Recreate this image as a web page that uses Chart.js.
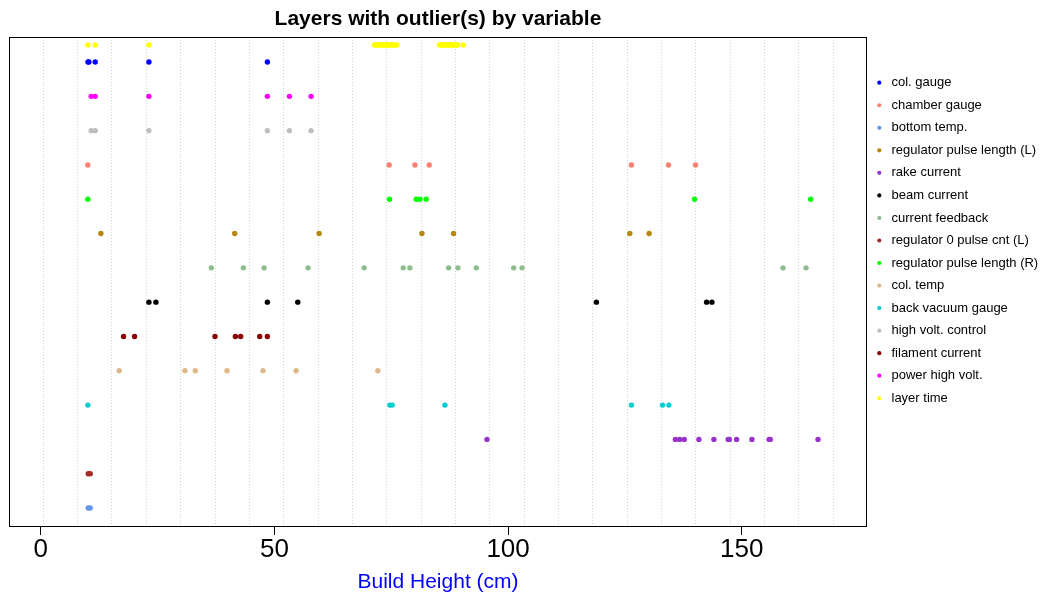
<!DOCTYPE html>
<html>
<head>
<meta charset="utf-8">
<script src="https://cdn.jsdelivr.net/npm/chart.js@4/dist/chart.umd.min.js"></script>
<style>
  html, body { margin: 0; padding: 0; background: #ffffff; }
  #wrap { width: 1040px; height: 596px; }
</style>
</head>
<body>
<div id="wrap"><canvas id="c" width="1040" height="596"></canvas></div>
<script>
// ---------- data ----------
const seriesLabels = [
  "col. gauge", "chamber gauge", "bottom temp.", "regulator pulse length (L)",
  "rake current", "beam current", "current feedback", "regulator 0 pulse cnt (L)",
  "regulator pulse length (R)", "col. temp", "back vacuum gauge", "high volt. control",
  "filament current", "power high volt.", "layer time"
];
// row (y) position of each variable, same order as seriesLabels
const rowPositions = [14, 11, 1, 9, 3, 7, 8, 2, 10, 5, 4, 12, 6, 13, 14.5];

// build heights (cm) of flagged layers, per variable
const colGauge = [10.1, 10.3, 11.65, 23.14, 48.49];
const chamberGauge = [10.07, 74.55, 80.06, 83.12, 126.4, 134.32, 140.11];
const bottomTemp = [10.15, 10.58];
const regPulseLenL = [12.86, 41.5, 59.56, 81.56, 88.34, 126.04, 130.18];
const rakeCurrent = [95.48, 135.8, 136.7, 137.7, 140.83, 144.04, 147.1, 147.35, 148.89, 152.18, 155.85, 156.1, 166.32];
const beamCurrent = [23.14, 24.64, 48.49, 54.99, 118.9, 142.47, 143.61];
const currentFeedback = [36.5, 43.35, 47.78, 57.2, 69.2, 77.56, 78.98, 87.27, 89.27, 93.2, 101.19, 102.98, 158.82, 163.75];
const reg0PulseCntL = [10.15, 10.58];
const regPulseLenR = [10.07, 74.63, 80.34, 81.13, 82.48, 139.9, 164.75];
const colTemp = [16.79, 30.85, 33.07, 39.85, 47.56, 54.63, 72.13];
const backVacuumGauge = [10.08, 74.7, 75.2, 86.48, 126.4, 133.04, 134.4];
const highVoltControl = [10.79, 11.65, 23.14, 48.49, 53.21, 57.85];
const filamentCurrent = [17.72, 20.07, 37.28, 41.64, 42.78, 46.85, 48.49];
const powerHighVolt = [10.79, 11.65, 23.14, 48.49, 53.21, 57.85];
const layerTime = [10.07, 11.65, 23.14,
  71.4, 71.6, 71.9, 72.1, 72.4, 72.6, 72.9, 73.1, 73.4, 73.6, 73.9, 74.1, 74.4, 74.6, 74.9, 75.1, 75.4, 75.6, 75.9, 76.2,
  85.3, 85.5, 85.8, 86.0, 86.3, 86.5, 86.8, 87.0, 87.3, 87.5, 87.8, 88.0, 88.3, 88.6, 88.9, 89.2, 90.4];

const seriesValues = [colGauge, chamberGauge, bottomTemp, regPulseLenL, rakeCurrent, beamCurrent,
  currentFeedback, reg0PulseCntL, regPulseLenR, colTemp, backVacuumGauge, highVoltControl,
  filamentCurrent, powerHighVolt, layerTime];

const xTickValues = [0, 50, 100, 150];
const xGridValues = [0.43, 7.78, 15.13, 22.48, 29.83, 37.18, 44.52, 51.87, 59.22, 66.57, 73.92, 81.27,
  88.62, 95.97, 103.32, 110.67, 118.01, 125.36, 132.71, 140.06, 147.41, 154.76, 162.11, 169.46];

// ---------- styles ----------
const seriesColors = ["#0000FF", "#FA8072", "#6495ED", "#B8860B", "#9932CC", "#000000",
  "#8FBC8F", "#A52A2A", "#00FF00", "#DEB887", "#00CED1", "#BEBEBE", "#8B0000", "#FF00FF", "#FFFF00"];

Chart.defaults.font.family = "'Liberation Sans', Arial, Helvetica, sans-serif";
Chart.defaults.color = "#000000";

const datasets = seriesLabels.map((lab, i) => ({
  label: lab,
  data: seriesValues[i].map(v => ({ x: v, y: rowPositions[i] })),
  backgroundColor: seriesColors[i],
  borderWidth: 0,
  pointRadius: 2.7,
  pointHoverRadius: 2.7,
  showLine: false
}));

const decorPlugin = {
  id: 'decor',
  beforeDatasetsDraw(chart) {
    const { ctx, chartArea: a, scales } = chart;
    ctx.save();
    ctx.strokeStyle = '#D3D3D3';
    ctx.lineWidth = 1;
    ctx.setLineDash([1, 2]);
    xGridValues.forEach(v => {
      const px = Math.round(scales.x.getPixelForValue(v)) + 0.5;
      ctx.beginPath();
      ctx.moveTo(px, a.top);
      ctx.lineTo(px, a.bottom);
      ctx.stroke();
    });
    ctx.restore();
  },
  afterDatasetsDraw(chart) {
    const { ctx, chartArea: a } = chart;
    ctx.save();
    ctx.strokeStyle = '#000000';
    ctx.lineWidth = 1;
    ctx.strokeRect(Math.round(a.left) + 0.5, Math.round(a.top) + 0.5,
      Math.round(a.right - a.left) - 1, Math.round(a.bottom - a.top));
    ctx.restore();
  },
  afterDraw(chart) {
    const { ctx } = chart;
    ctx.save();
    ctx.font = "13px 'Liberation Sans', Arial, sans-serif";
    ctx.textBaseline = 'middle';
    ctx.textAlign = 'left';
    chart.data.datasets.forEach((ds, i) => {
      const y = 82.7 + i * 22.54;
      ctx.fillStyle = ds.backgroundColor;
      ctx.beginPath();
      ctx.arc(879.3, y, 2.1, 0, Math.PI * 2);
      ctx.fill();
      ctx.fillStyle = '#000000';
      ctx.fillText(ds.label, 891.5, y);
    });
    ctx.restore();
  }
};

new Chart(document.getElementById('c'), {
  type: 'scatter',
  data: { datasets },
  plugins: [decorPlugin],
  options: {
    responsive: false,
    animation: false,
    devicePixelRatio: 1,
    layout: { padding: { left: 9, right: 173, top: 0, bottom: 0 } },
    plugins: {
      legend: { display: false },
      tooltip: { enabled: false },
      title: {
        display: true,
        text: 'Layers with outlier(s) by variable',
        color: '#000000',
        font: { size: 21, weight: 'bold' },
        padding: { top: 7, bottom: 4.8 }
      }
    },
    scales: {
      x: {
        type: 'linear',
        min: -6.8,
        max: 176.8,
        afterBuildTicks: s => { s.ticks = xTickValues.map(v => ({ value: v })); },
        afterFit: s => { s.height = 70; },
        grid: { drawOnChartArea: false, drawTicks: true, tickLength: 9, color: '#000000', lineWidth: 1 },
        border: { display: false },
        ticks: { font: { size: 26 }, color: '#000000', padding: -1, maxRotation: 0 },
        title: {
          display: true,
          text: 'Build Height (cm)',
          color: '#0000FF',
          font: { size: 21 },
          padding: { top: 0, bottom: 1 }
        }
      },
      y: {
        type: 'linear',
        display: false,
        min: 0.475,
        max: 14.73
      }
    }
  }
});
</script>
</body>
</html>
